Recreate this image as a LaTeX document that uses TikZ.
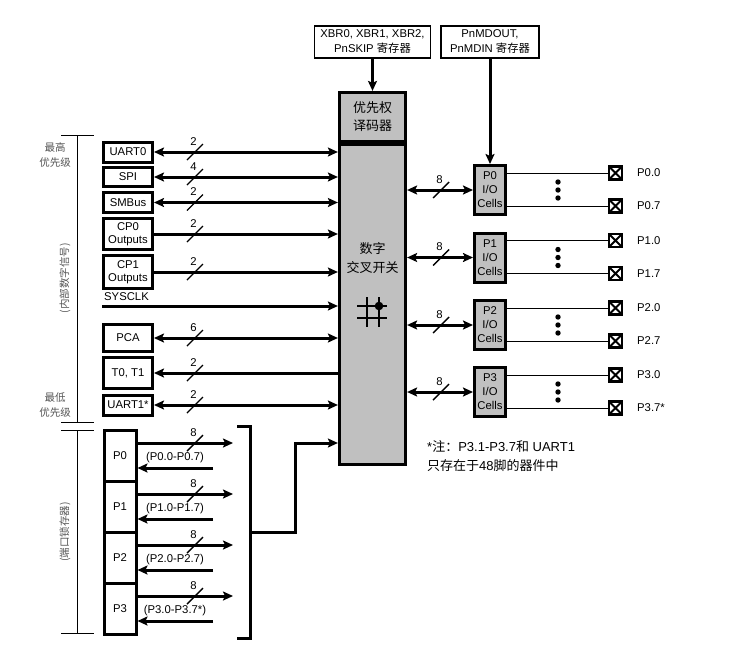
\documentclass[tikz,border=0pt]{standalone}
\usepackage{fontspec}
\setmainfont{Liberation Sans}
\newfontfamily\cjk{Noto Sans CJK SC}
\usetikzlibrary{arrows.meta,calc}
\definecolor{boxgray}{RGB}{192,192,192}
\definecolor{lblgray}{RGB}{85,85,85}
\tikzset{
  f11/.style={font=\fontsize{11.3}{13}\selectfont},
  lbox/.style={draw, line width=3pt, fill=white, inner sep=0pt, minimum width=49pt, align=center, f11},
  regbox/.style={draw, line width=1.6pt, fill=white, inner sep=0pt, align=center, font=\fontsize{11.3}{15}\selectfont},
  gbox/.style={draw, line width=3.2pt, fill=boxgray, inner sep=0pt, align=center},
  iocell/.style={draw, line width=3pt, fill=boxgray, minimum width=31pt, minimum height=49pt, inner sep=0pt, align=center, font=\fontsize{11.3}{14}\selectfont},
  portbox/.style={draw, line width=3pt, fill=white, minimum width=32pt, minimum height=51pt, inner sep=0pt, f11},
  bus/.style={line width=3pt},
  wire/.style={line width=1pt},
  side/.style={line width=0.9pt},
  pinbox/.style={draw, line width=2.2pt, fill=white, minimum size=13pt, inner sep=0pt,
    path picture={\draw[line width=1.8pt] (path picture bounding box.south west) -- (path picture bounding box.north east)
      (path picture bounding box.north west) -- (path picture bounding box.south east);}},
  lbl/.style={f11, anchor=west, inner sep=0pt},
  sidelbl/.style={text=lblgray, font=\cjk\fontsize{10.5}{15}\selectfont, align=center, inner sep=0pt},
  >={Stealth[length=10pt,width=9pt,inset=2pt]}
}
\newcommand\busmark[3]{%
  \draw[line width=1.4pt] (#1-8,#2+8) -- (#1+8,#2-8);
  \node[f11, inner sep=0pt] at (#1-1.5,#2-10.5) {#3};}
\begin{document}
\begin{tikzpicture}[x=1pt,y=-1pt]
\useasboundingbox (0,0) rectangle (733,648);

% top register boxes
\node[regbox, minimum width=116pt, minimum height=32pt] (xbr) at (372.5,42) {XBR0, XBR1, XBR2,\\PnSKIP {\cjk 寄存器}};
\node[regbox, minimum width=98pt, minimum height=32pt] (mdout) at (490,42) {PnMDOUT,\\PnMDIN {\cjk 寄存器}};

% crossbar and priority decoder
\node[gbox, minimum width=66pt, minimum height=320pt] (xbar) at (372.5,304.5) {};
\node[gbox, minimum width=66pt, minimum height=49pt, font=\cjk\fontsize{13}{18}\selectfont] (dec) at (372.5,117) {优先权\\译码器};
\node[font=\cjk\fontsize{13}{19}\selectfont, align=center] (xbartxt) at (372.5,258) {数字\\交叉开关};
% crossbar symbol
\draw[line width=1.1pt] (357,306) -- (387,306) (357,318) -- (387,318)
  (367,297) -- (367,327) (379,297) -- (379,327);
\fill (379,306) circle (4.3);

\draw[bus,->] (xbr.south) -- (dec.north);

% left peripheral boxes
\node[lbox, minimum height=20pt] (uart0) at (128,152) {UART0};
\node[lbox, minimum height=19pt] (spi) at (128,177) {SPI};
\node[lbox, minimum height=20pt] (smbus) at (128,202.5) {SMBus};
\node[lbox, minimum height=31pt] (cp0) at (128,234) {CP0\\Outputs};
\node[lbox, minimum height=33pt] (cp1) at (128,272) {CP1\\Outputs};
\node[lbl] (sysclklbl) at (104,297) {SYSCLK};
\coordinate (sysclk) at (102,306);
\node[lbox, minimum height=27pt] (pca) at (128,338) {PCA};
\node[lbox, minimum height=31pt] (t01) at (128,373) {T0, T1};
\node[lbox, minimum height=20pt] (uart1) at (128,405) {UART1*};

\draw[bus,<->] (uart0.east) -- (uart0.east -| xbar.west);
\draw[bus,<->] (spi.east) -- (spi.east -| xbar.west);
\draw[bus,<->] (smbus.east) -- (smbus.east -| xbar.west);
\draw[bus,->] (cp0.east) -- (cp0.east -| xbar.west);
\draw[bus,->] (cp1.east) -- (cp1.east -| xbar.west);
\draw[bus,->] (sysclk) -- (sysclk -| xbar.west);
\draw[bus,<->] (pca.east) -- (pca.east -| xbar.west);
\draw[bus,<-] (t01.east) -- (t01.east -| xbar.west);
\draw[bus,<->] (uart1.east) -- (uart1.east -| xbar.west);

\busmark{195}{152}{2}
\busmark{195}{177}{4}
\busmark{195}{202.5}{2}
\busmark{195}{234}{2}
\busmark{195}{272}{2}
\busmark{195}{338}{6}
\busmark{195}{373}{2}
\busmark{195}{405}{2}

% left side priority labels
\draw[side] (61,135) -- (94,135) (77,135) -- (77,422) (61,422) -- (94,422);
\draw[side] (61,430) -- (94,430) (77,430) -- (77,633) (61,633) -- (94,633);
\node[sidelbl] (hi) at (55,155) {最高\\优先级};
\node[sidelbl] (lo) at (55,405) {最低\\优先级};
\node[sidelbl, rotate=90] (internal) at (65,278) {(内部数字信号)};
\node[sidelbl, rotate=90] (latch) at (65,532) {(端口锁存器)};

% I/O cells
\node[iocell] (c0) at (490,190) {P0\\I/O\\Cells};
\node[iocell] (c1) at (490,257.5) {P1\\I/O\\Cells};
\node[iocell] (c2) at (490,325) {P2\\I/O\\Cells};
\node[iocell] (c3) at (490,392) {P3\\I/O\\Cells};
\draw[bus,->] (mdout.south) -- (c0.north);

\foreach \c/\y/\a/\b in {c0/190/P0.0/P0.7, c1/257.5/P1.0/P1.7, c2/325/P2.0/P2.7, c3/392/P3.0/P3.7*}{
  \draw[bus,<->] (xbar.east |- \c.west) -- (\c.west);
  \busmark{441}{\y}{8}
  \node[pinbox] (\c a) at (615.5,\y-17) {};
  \node[pinbox] (\c b) at (615.5,\y+16) {};
  \draw[wire] (\c.east |- \c a.west) -- (\c a.west);
  \draw[wire] (\c.east |- \c b.west) -- (\c b.west);
  \node[lbl] at (637,\y-17) {\a};
  \node[lbl] at (637,\y+16) {\b};
  \fill (558,\y-8) circle (2.7) (558,\y) circle (2.7) (558,\y+8) circle (2.7);
}

% note
\node[anchor=west, inner sep=0pt, font=\fontsize{13}{15}\selectfont] (note1) at (427,447) {*{\cjk 注：}P3.1-P3.7{\cjk 和} UART1};
\node[anchor=west, inner sep=0pt, font=\fontsize{13}{15}\selectfont] (note2) at (427,466) {{\cjk 只存在于}48{\cjk 脚的器件中}};

% port latches
\node[portbox] (l0) at (120,455.5) {P0};
\node[portbox] (l1) at (120,506.5) {P1};
\node[portbox] (l2) at (120,557.5) {P2};
\node[portbox] (l3) at (120,608.5) {P3};

\foreach \l/\y/\r in {l0/455.5/(P0.0-P0.7), l1/506.5/(P1.0-P1.7), l2/557.5/(P2.0-P2.7), l3/608.5/(P3.0-P3.7*)}{
  \coordinate (\l o) at (233,\y-12.5);
  \coordinate (\l r) at (213,\y+12.5);
  \draw[bus,->] (\l o -| \l.east) -- (\l o);
  \draw[bus,->] (\l r) -- (\l r -| \l.east);
  \busmark{195}{\y-12.5}{8}
  \node[f11, inner sep=0pt] at (175,\y+2) {\r};
}

% bracket to crossbar
\coordinate (brtop) at (237,426);
\coordinate (brbot) at (237,638);
\coordinate (brmid) at (250,532);
\coordinate (bend) at (295,443);
\draw[bus] (brtop) -- (250,426) -- (250,638) -- (brbot);
\draw[bus,->] (brmid) -- (bend |- brmid) -- (bend) -- (bend -| xbar.west);
\end{tikzpicture}
\end{document}
